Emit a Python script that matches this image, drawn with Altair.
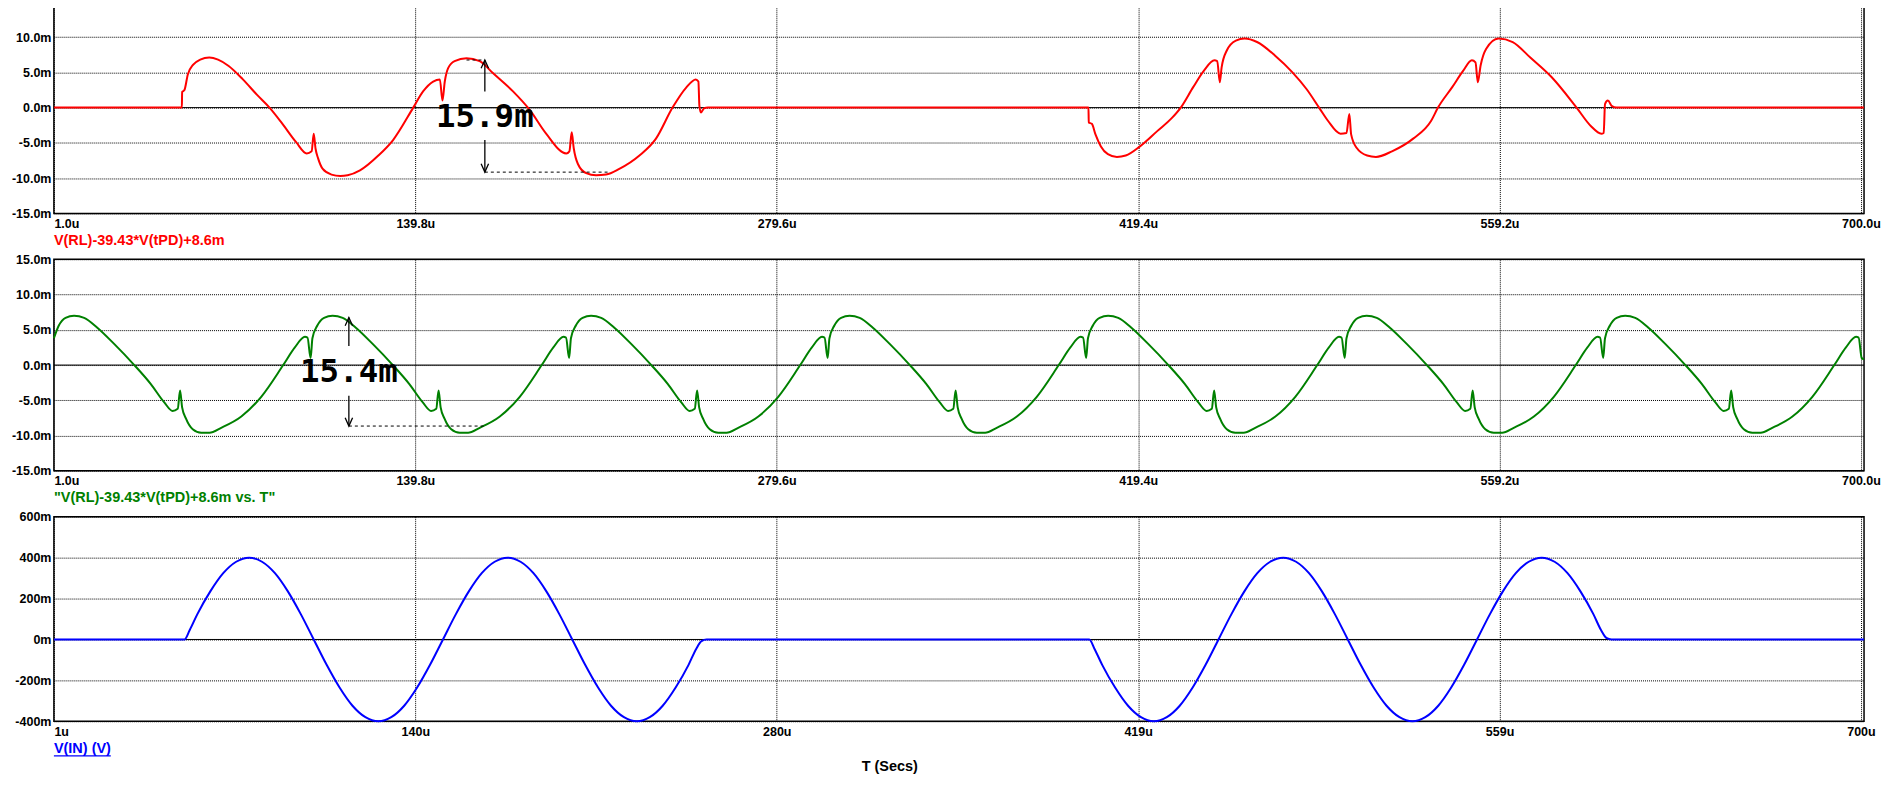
import altair as alt
import pandas as pd

# ---------------- data (time in µs, traces in mV) ----------------
T_START, T_END = 1.0, 701.2
XTICKS = [1.0, 140.8, 280.6, 420.4, 560.2, 700.0]

# Red trace: V(RL)-39.43*V(tPD)+8.6m
red_t = [1.0, 50.5, 50.6, 51.5, 52.8, 54.9, 57.6, 61.1, 64.5, 68.6,
         74.1, 79.6, 84.4, 89.2, 94.7, 98.8, 100.7, 101.5, 102.2, 103.2,
         105.0, 108.4, 111.8, 114.6, 119.4, 126.5, 132.2, 140.0, 143.8, 147.7,
         150.3, 151.3, 152.2, 153.5, 156.0, 160.6, 165.7, 170.8, 178.6, 185.0,
         191.4, 199.2, 200.4, 201.3, 202.1, 203.7, 206.9, 210.7, 214.6, 219.7,
         227.5, 233.9, 240.3, 245.5, 249.3, 250.3, 250.7, 251.3, 252.5, 254.0,
         401.2, 401.3, 402.5, 403.9, 406.0, 408.7, 412.2, 415.6, 421.1, 427.9,
         433.4, 436.9, 441.7, 445.8, 449.9, 451.0, 452.0, 452.7, 454.7, 458.2,
         461.6, 466.4, 473.3, 480.1, 485.6, 490.4, 493.9, 498.7, 501.0, 502.1,
         502.8, 504.9, 509.0, 512.4, 518.6, 526.8, 533.7, 536.4, 541.9, 546.1,
         549.5, 550.9, 551.8, 552.9, 555.0, 559.8, 565.3, 572.1, 580.4, 590.0,
         595.5, 599.6, 600.5, 601.0, 602.1, 603.7, 605.4, 701.2]
red_v = [0, 0, 2.2, 2.5, 4.7, 6.1, 6.8, 7.1, 6.8, 5.9,
         4.0, 1.8, 0.0, -2.2, -4.9, -6.5, -6.2, -3.7, -5.8, -7.2,
         -8.7, -9.5, -9.7, -9.6, -8.9, -6.8, -4.6, 0.0, 2.3, 3.7,
         4.0, 1.0, 3.7, 5.6, 6.6, 7.0, 6.6, 4.9, 2.3, -0.3,
         -3.7, -6.5, -6.2, -3.5, -5.8, -8.0, -9.3, -9.6, -9.5, -8.7,
         -6.8, -4.4, 0.0, 2.8, 4.0, 3.7, 0.2, -0.7, -0.1, 0.0,
         0.0, -2.1, -2.3, -3.8, -5.5, -6.6, -7.0, -6.8, -5.5, -3.3,
         -1.5, 0.0, 2.9, 5.2, 6.7, 6.6, 3.6, 5.7, 8.1, 9.5,
         9.8, 9.3, 7.4, 5.0, 2.6, 0.0, -1.9, -3.7, -3.6, -0.9,
         -3.8, -5.7, -6.8, -7.0, -6.2, -4.4, -1.9, 0.0, 2.9, 5.2,
         6.7, 6.4, 3.6, 6.0, 8.3, 9.8, 9.3, 7.1, 4.3, 0.0,
         -2.6, -3.7, -3.6, 0.5, 1.0, 0.2, 0.0, 0.0]

# Green trace: one measured 100 µs cycle, repeated at the cycle starts seen in the plot
green_cycle_t = [1.0, 2.9, 5.5, 8.8, 12.7, 17.8, 24.3, 32.1, 38.5, 43.7,
                 46.9, 48.9, 49.8, 50.6, 52.1, 54.7, 58.0, 61.2, 65.7, 73.5,
                 81.2, 89.7, 94.2, 98.1, 99.1, 100.3]
green_cycle_v = [3.8, 5.6, 6.7, 7.0, 6.7, 5.3, 3.0, 0.0, -2.7, -5.3,
                 -6.5, -6.2, -3.6, -6.0, -7.6, -9.1, -9.6, -9.6, -8.9, -7.3,
                 -4.5, 0.0, 2.5, 4.0, 3.9, 1.0]
green_cycle_starts = [0, 100, 200, 300, 400, 500, 600]
green_tail_t, green_tail_v = [701.2], [0.8]

# Blue trace: V(IN)
blue_t = [1.0, 51.5, 53.5, 56.5, 61.5, 66.5, 71.5, 76.5, 81.5, 86.5, 91.5, 96.5,
          101.5, 106.5, 111.5, 116.5, 121.5, 126.5, 131.5, 136.5, 141.5, 146.5,
          151.5, 156.5, 161.5, 166.5, 171.5, 176.5, 181.5, 186.5, 191.5, 196.5,
          201.5, 206.5, 211.5, 216.5, 221.5, 226.5, 231.5, 236.5, 241.5, 246.5,
          249.5, 251.5, 253.5,
          401.5, 403.5, 406.5, 411.5, 416.5, 421.5, 426.5, 431.5, 436.5, 441.5, 446.5,
          451.5, 456.5, 461.5, 466.5, 471.5, 476.5, 481.5, 486.5, 491.5, 496.5,
          501.5, 506.5, 511.5, 516.5, 521.5, 526.5, 531.5, 536.5, 541.5, 546.5,
          551.5, 556.5, 561.5, 566.5, 571.5, 576.5, 581.5, 586.5, 591.5, 596.5,
          599.5, 601.5, 603.5, 701.2]
blue_v = [0, 0, 45, 124, 235, 324, 380, 400, 380, 324, 235, 124,
          0, -124, -235, -324, -380, -400, -380, -324, -235, -124,
          0, 124, 235, 324, 380, 400, 380, 324, 235, 124,
          0, -124, -235, -324, -380, -400, -380, -324, -235, -124,
          -45, -8, 0,
          0, -45, -124, -235, -324, -380, -400, -380, -324, -235, -124,
          0, 124, 235, 324, 380, 400, 380, 324, 235, 124,
          0, -124, -235, -324, -380, -400, -380, -324, -235, -124,
          0, 124, 235, 324, 380, 400, 380, 324, 235, 124,
          45, 8, 0, 0]

# Cursor annotations (time, top, bottom, text)
ann1 = dict(t=167.7, top=6.75, top_end=2.3, bot_start=-4.6, bot=-9.15,
            dash_to=215.9, dash_top_from=160.6, text="15.9m", text_v=-1.4)
ann2 = dict(t=115.1, top=6.75, top_end=2.7, bot_start=-4.35, bot=-8.65,
            dash_to=167.6, text="15.4m", text_v=-1.05)

labels_top = ["1.0u", "139.8u", "279.6u", "419.4u", "559.2u", "700.0u"]
labels_bottom = ["1u", "140u", "280u", "419u", "559u", "700u"]

# ---------------- tables ----------------
red_df = pd.DataFrame({"t": red_t, "v": red_v})
g_t, g_v = [], []
for s in green_cycle_starts:
    for ct, cv in zip(green_cycle_t, green_cycle_v):
        if ct + s <= T_END:
            g_t.append(round(ct + s, 2))
            g_v.append(cv)
g_t += green_tail_t
g_v += green_tail_v
green_df = pd.DataFrame({"t": g_t, "v": g_v})
blue_df = pd.DataFrame({"t": blue_t, "v": blue_v})

FONT = "Liberation Sans"
W = 1814


def label_expr(labels):
    bounds = [50, 200, 350, 500, 650]
    e = f"'{labels[-1]}'"
    for b, lab in reversed(list(zip(bounds, labels[:-1]))):
        e = f"datum.value < {b} ? '{lab}' : ({e})"
    return e


AX = dict(labelFont=FONT, labelFontWeight="bold", labelFontSize=12.5, labelColor="black",
          ticks=False, tickSize=0, domain=False, grid=True, gridColor="black",
          gridDash=[1, 1], gridOpacity=1, gridWidth=1, labelFlush=False,
          labelOverlap=False, labelBound=False, title=None)


def X(labels, field="t"):
    return alt.X(f"{field}:Q",
                 scale=alt.Scale(domain=[T_START, T_END], nice=False, zero=False),
                 axis=alt.Axis(values=XTICKS, labelExpr=label_expr(labels),
                               labelBaseline="top", labelPadding=4,
                               labelAlign={"condition": {"test": "datum.value < 50", "value": "left"},
                                           "value": "center"}, **AX))


def Y(domain, ticks, fmt, field="v"):
    return alt.Y(f"{field}:Q",
                 scale=alt.Scale(domain=domain, nice=False, zero=False),
                 axis=alt.Axis(values=ticks,
                               labelExpr=f"(datum.value < 0 ? '-' : '') + format(abs(datum.value), '{fmt}') + 'm'",
                               labelBaseline="middle", labelPadding=3,
                               minExtent=45, maxExtent=45, **AX))


one = pd.DataFrame({"k": [0]})
zero_df = pd.DataFrame({"v": [0.0]})


def panel(df, color, labels, ydom, yticks, yfmt, height, caption, caption_color, ann=None, extra=None):
    yy = Y(ydom, yticks, yfmt)
    layers = []
    layers.append(alt.Chart(zero_df).mark_rule(color="black", strokeWidth=1).encode(y=yy))
    layers.append(alt.Chart(df).mark_line(color=color, strokeWidth=2, interpolate="monotone")
                  .encode(x=X(labels), y=yy))
    if ann is not None:
        shafts = pd.DataFrame({"t": [ann["t"], ann["t"]], "v": [ann["top"], ann["bot_start"]],
                               "v2": [ann["top_end"], ann["bot"]]})
        layers.append(alt.Chart(shafts).mark_rule(color="black", strokeWidth=1.3)
                      .encode(x=X(labels), y=yy, y2="v2:Q"))
        dt = [ann["t"]]
        dt2 = [ann["dash_to"]]
        dv = [ann["bot"]]
        if "dash_top_from" in ann:
            dt.append(ann["dash_top_from"])
            dt2.append(ann["t"])
            dv.append(ann["top"])
        dashes = pd.DataFrame({"t": dt, "t2": dt2, "v": dv})
        layers.append(alt.Chart(dashes).mark_rule(color="black", strokeWidth=1, strokeDash=[3, 3])
                      .encode(x=X(labels), x2="t2:Q", y=yy))
        up = pd.DataFrame({"t": [ann["t"]], "v": [ann["top"]]})
        dn = pd.DataFrame({"t": [ann["t"]], "v": [ann["bot"]]})
        layers.append(alt.Chart(up).mark_point(shape="M -0.45 1 L 0 0 L 0.45 1", filled=False,
                                               stroke="black", strokeWidth=1.3, size=275, opacity=1)
                      .encode(x=X(labels), y=yy))
        layers.append(alt.Chart(dn).mark_point(shape="M -0.45 -1 L 0 0 L 0.45 -1", filled=False,
                                               stroke="black", strokeWidth=1.3, size=275, opacity=1)
                      .encode(x=X(labels), y=yy))
        txt = pd.DataFrame({"t": [ann["t"]], "v": [ann["text_v"]], "s": [ann["text"]]})
        layers.append(alt.Chart(txt).mark_text(font="DejaVu Sans Mono", fontWeight="bold",
                                               fontSize=32.5, color="black", align="center",
                                               baseline="middle")
                      .encode(x=X(labels), y=yy, text="s:N"))
    layers.append(alt.Chart(one).mark_text(font=FONT, fontWeight="bold", fontSize=14.5,
                                           color=caption_color, align="left", baseline="middle")
                  .encode(x=alt.value(0), y=alt.value(caption[1]), text=alt.value(caption[0])))
    if extra:
        layers += extra
    return alt.layer(*layers).properties(width=W, height=height)


p1 = panel(red_df, "#ff0000", labels_top, [-15, 15], [-15, -10, -5, 0, 5, 10, 15], ".1f", 212,
           ("V(RL)-39.43*V(tPD)+8.6m", 240), "#ff0000", ann=ann1)
p2 = panel(green_df, "#008000", labels_top, [-15, 15], [-15, -10, -5, 0, 5, 10, 15], ".1f", 212,
           ('"V(RL)-39.43*V(tPD)+8.6m vs. T"', 239.5), "#008000", ann=ann2)
extra3 = [
    alt.Chart(one).mark_rule(color="#0000ff", strokeWidth=1.3)
    .encode(x=alt.value(0), x2=alt.value(57), y=alt.value(239.7)),
    alt.Chart(one).mark_text(font=FONT, fontWeight="bold", fontSize=14.5, color="black",
                             align="center", baseline="middle")
    .encode(x=alt.value(837.7), y=alt.value(250.4), text=alt.value("T (Secs)")),
]
p3 = panel(blue_df, "#0000ff", labels_bottom, [-400, 600], [-400, -200, 0, 200, 400, 600], "d", 205,
           ("V(IN) (V)", 233), "#0000ff", extra=extra3)

chart = (alt.vconcat(p1, p2, p3, spacing=46, bounds="flush")
         .properties(padding={"left": 0, "top": -14, "right": 0, "bottom": 0})
         .configure_axis(labelOverlap=False, labelFlush=False)
         .configure_view(stroke="black", strokeWidth=1.5))

chart.save("out.html", embed_options={"renderer": "svg", "actions": False})
